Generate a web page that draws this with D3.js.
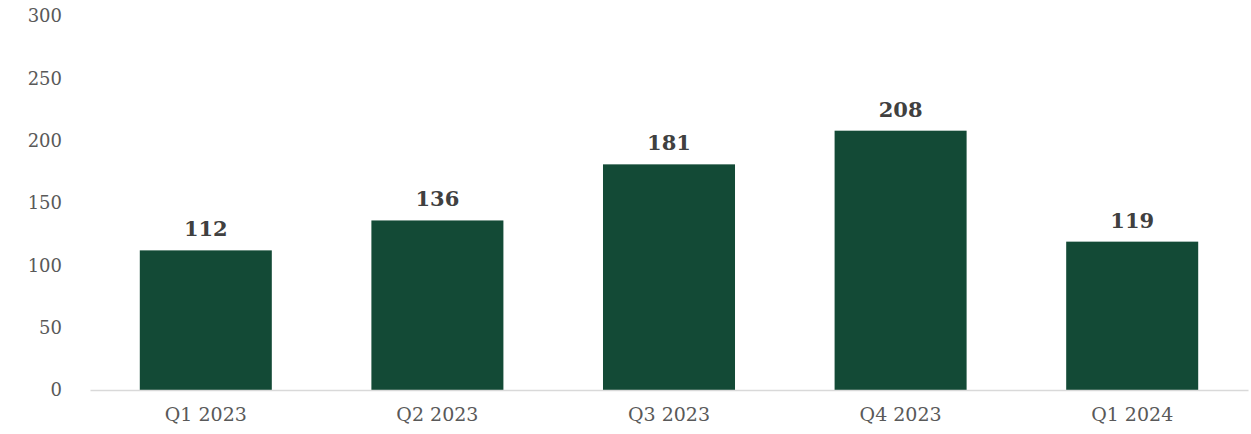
<!DOCTYPE html>
<html>
<head>
<meta charset="utf-8">
<script src="https://cdn.jsdelivr.net/npm/d3@7"></script>
<style>
  html, body { margin: 0; padding: 0; background: #fff; }
  svg { display: block; font-family: Georgia, "DejaVu Serif", serif; }
</style>
</head>
<body>
<div id="chart"></div>
<script>
const quarters = ["Q1 2023", "Q2 2023", "Q3 2023", "Q4 2023", "Q1 2024"];
const counts = [112, 136, 181, 208, 119];
const yTicks = [0, 50, 100, 150, 200, 250, 300];

const W = 1251, H = 434;
const M = {top: 16, right: 3, bottom: 44, left: 90};

const svg = d3.select("#chart").append("svg").attr("width", W).attr("height", H);

const x = d3.scaleBand().domain(quarters).range([M.left, W - M.right]).paddingInner(0.43).paddingOuter(0.215);
const y = d3.scaleLinear().domain([0, 300]).range([H - M.bottom, M.top]);

// y tick labels only, no axis line or gridlines
const yAxis = svg.append("g").attr("transform", `translate(${M.left - 28},0)`)
  .call(d3.axisLeft(y).tickValues(yTicks).tickSize(0).tickPadding(0))
  .attr("font-family", null).attr("font-size", 18);
yAxis.select(".domain").remove();
yAxis.selectAll("text").attr("fill", "#595959");

// bars
svg.selectAll("rect.bar").data(counts).join("rect")
  .attr("class", "bar")
  .attr("x", (d, i) => x(quarters[i]))
  .attr("y", d => y(d))
  .attr("width", x.bandwidth())
  .attr("height", d => y(0) - y(d))
  .attr("fill", "#134a36");

// baseline + category labels
const xAxis = svg.append("g").attr("transform", `translate(0,${y(0)})`)
  .call(d3.axisBottom(x).tickSize(0).tickPadding(18))
  .attr("font-family", null).attr("font-size", 19);
xAxis.select(".domain").attr("stroke", "#d9d9d9").attr("stroke-width", 1.5);
xAxis.selectAll("text").attr("fill", "#595959");

// value labels
svg.selectAll("text.val").data(counts).join("text")
  .attr("class", "val")
  .attr("x", (d, i) => x(quarters[i]) + x.bandwidth() / 2)
  .attr("y", d => y(d) - 14)
  .attr("text-anchor", "middle")
  .attr("font-size", 21)
  .attr("font-weight", "bold")
  .attr("fill", "#404040")
  .text(d => d);
</script>
</body>
</html>
